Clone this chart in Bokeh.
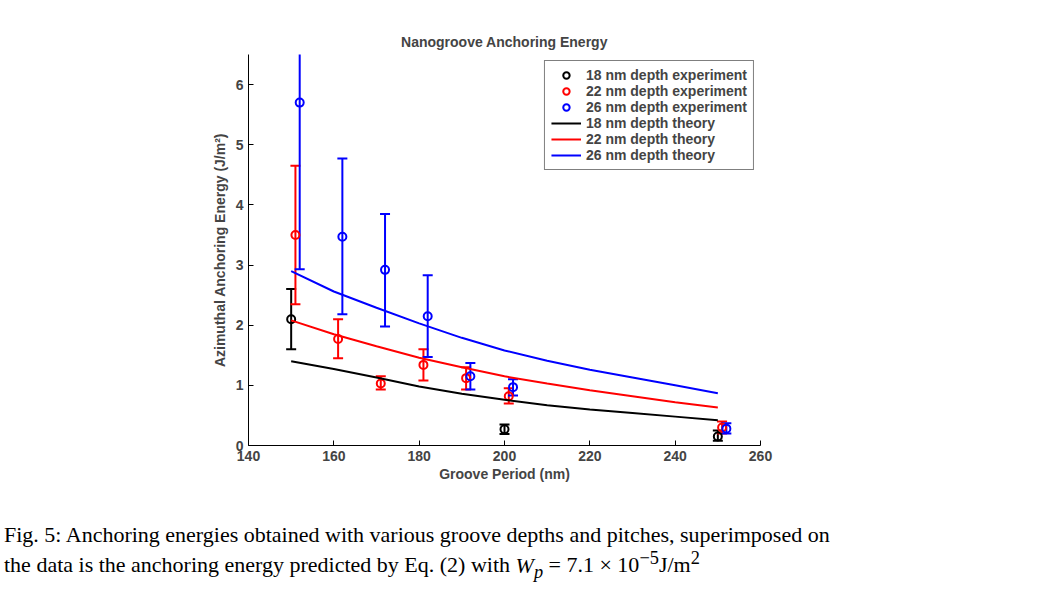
from bokeh.plotting import figure
from bokeh.models import Whisker, TeeHead, ColumnDataSource, Label, Legend, LegendItem, Div
from bokeh.layouts import column
from bokeh.embed import file_html
from bokeh.resources import INLINE

# experiment data (values in units of 1e-5 J/m^2)
bx = [150, 200, 250]
by = [2.1, 0.27, 0.15]
blo = [1.6, 0.19, 0.08]
bhi = [2.6, 0.35, 0.25]

rx = [151, 161, 171, 181, 191, 201, 251]
ry = [3.5, 1.77, 1.03, 1.34, 1.12, 0.82, 0.30]
rlo = [2.35, 1.45, 0.93, 1.08, 0.93, 0.70, 0.20]
rhi = [4.65, 2.10, 1.15, 1.60, 1.30, 0.95, 0.40]

ux = [152, 162, 172, 182, 192, 202, 252]
uy = [5.7, 3.47, 2.92, 2.15, 1.15, 0.97, 0.28]
ulo = [2.93, 2.18, 1.98, 1.47, 0.93, 0.83, 0.20]
uhi = [6.6, 4.77, 3.85, 2.83, 1.37, 1.10, 0.37]

tx = [150, 160, 170, 180, 190, 200, 210, 220, 230, 240, 250]
t18 = [1.40, 1.27, 1.13, 0.98, 0.86, 0.76, 0.67, 0.60, 0.54, 0.48, 0.42]
t22 = [2.08, 1.85, 1.65, 1.46, 1.30, 1.15, 1.03, 0.92, 0.82, 0.72, 0.63]
t26 = [2.90, 2.56, 2.29, 2.03, 1.79, 1.58, 1.41, 1.26, 1.13, 1.00, 0.87]

F = "Liberation Sans"
p = figure(width=1048, height=500, x_range=(140, 260), y_range=(0, 6.5),
           output_backend="svg", toolbar_location=None,
           min_border_left=248, min_border_right=288, min_border_top=54, min_border_bottom=55)
p.outline_line_color = None
p.grid.visible = False
p.title.text = "Nanogroove Anchoring Energy"
p.title.align = "center"
p.title.text_font = F
p.title.text_font_size = "14px"
p.title.text_font_style = "bold"
for ax in (p.xaxis[0], p.yaxis[0]):
    ax.major_tick_in = 5
    ax.major_tick_out = 0
    ax.minor_tick_line_color = None
    ax.major_label_text_font = F
    ax.major_label_text_font_size = "14px"
    ax.major_label_text_font_style = "bold"
    ax.axis_label_text_font = F
    ax.axis_label_text_font_size = "14px"
    ax.axis_label_text_font_style = "bold"
    ax.axis_line_width = 1
p.xaxis.ticker = [140, 160, 180, 200, 220, 240, 260]
p.yaxis.ticker = [0, 1, 2, 3, 4, 5, 6]
p.xaxis.axis_label = "Groove Period (nm)"
p.yaxis.axis_label = "Azimuthal Anchoring Energy (J/m²)"
p.xaxis.axis_label_standoff = 2

items = []
for xs, ys, lo, hi, c, name in [(bx, by, blo, bhi, "black", "18"), (rx, ry, rlo, rhi, "red", "22"), (ux, uy, ulo, uhi, "blue", "26")]:
    src = ColumnDataSource(dict(x=xs, y=ys, lo=lo, hi=hi))
    w = Whisker(source=src, base="x", lower="lo", upper="hi", line_color=c, line_width=2,
                upper_head=TeeHead(size=10, line_color=c, line_width=2),
                lower_head=TeeHead(size=10, line_color=c, line_width=2))
    p.add_layout(w)
    r = p.scatter("x", "y", source=src, marker="circle", size=8, fill_color=None, line_color=c, line_width=2)
    items.append(LegendItem(label=f"{name} nm depth experiment", renderers=[r]))
for ys, c, name in [(t18, "black", "18"), (t22, "red", "22"), (t26, "blue", "26")]:
    r = p.line(tx, ys, line_color=c, line_width=2)
    items.append(LegendItem(label=f"{name} nm depth theory", renderers=[r]))

leg = Legend(items=items, location="top_right", label_text_font=F, label_text_font_size="14px",
             label_text_font_style="bold", border_line_color="black", spacing=0, padding=6,
             label_height=16, glyph_height=16, glyph_width=30, margin=6)
p.add_layout(leg, "center")

p.add_layout(Label(x=250, y=6.5, x_units="screen", y_offset=2, text="x 10", text_font=F,
                   text_font_size="14px", text_font_style="bold"))
p.add_layout(Label(x=278, y=6.5, x_units="screen", y_offset=10, text="−5", text_font=F,
                   text_font_size="10px", text_font_style="bold"))

cap = Div(text="Fig. 5: Anchoring energies obtained with various groove depths and pitches, superimposed on<br>"
               "the data is the anchoring energy predicted by Eq. (2) with <i>W<sub>p</sub></i> = 7.1 &times; 10<sup>&minus;5</sup>J/m<sup>2</sup>",
          width=1040, styles={"font-family": "Liberation Serif", "font-size": "22px", "line-height": "1.2",
                              "margin-top": "22px", "margin-left": "4px"})
open("out.html", "w").write(file_html(column(p, cap), INLINE))
